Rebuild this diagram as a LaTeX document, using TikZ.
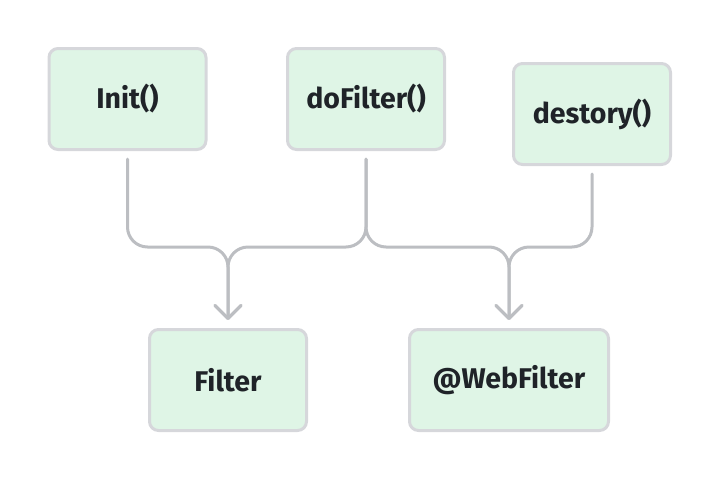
\documentclass[tikz,border=0pt]{standalone}
\usepackage{fontspec}
\setmainfont{Fira Sans}
\usetikzlibrary{arrows.meta,calc}
\definecolor{boxfill}{HTML}{DFF5E6}
\definecolor{boxline}{HTML}{D6D7DB}
\definecolor{conn}{HTML}{BCBEC2}
\definecolor{txt}{HTML}{1F2328}
\begin{document}
\begin{tikzpicture}[x=1pt,y=-1pt,
  box/.style={draw=boxline,fill=boxfill,line width=3pt,rounded corners=9pt,
    inner sep=0pt,font=\fontsize{28.5}{32}\selectfont\bfseries,text=txt},
  link/.style={draw=conn,line width=3pt,rounded corners=20pt,line cap=round,
    -{Straight Barb[length=13pt,width=26pt,line cap=round,line join=round]}}]
\useasboundingbox (0,0) rectangle (720,480);
\node[box,minimum width=157pt,minimum height=101pt] (init) at (127.5,99) {Init()};
\node[box,minimum width=157pt,minimum height=101pt] (dofilter) at (366,99) {doFilter()};
\node[box,minimum width=157pt,minimum height=101pt] (destory) at (592,114) {destory()};
\node[box,minimum width=157pt,minimum height=101pt] (filter) at (228,380) {Filter};
\node[box,minimum width=199pt,minimum height=101pt] (webfilter) at (509,380) {@WebFilter};
\coordinate (bus) at (0,247);
\draw[link] ([yshift=-8pt]init.south) -- (init.south |- bus) -| ([yshift=8pt]filter.north);
\draw[link] ([yshift=-8pt]dofilter.south) -- (dofilter.south |- bus) -| ([yshift=8pt]filter.north);
\draw[link] ([yshift=-8pt]dofilter.south) -- (dofilter.south |- bus) -| ([yshift=8pt]webfilter.north);
\draw[link] ([yshift=-8pt]destory.south) -- (destory.south |- bus) -| ([yshift=8pt]webfilter.north);
\end{tikzpicture}
\end{document}
